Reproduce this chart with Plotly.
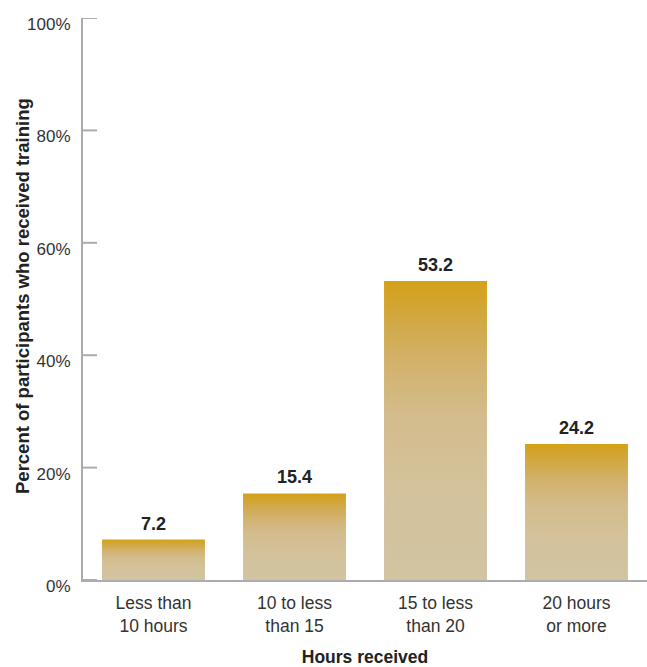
import plotly.graph_objects as go

categories = ["Less than<br>10 hours", "10 to less<br>than 15", "15 to less<br>than 20", "20 hours<br>or more"]
values = [7.2, 15.4, 53.2, 24.2]
value_labels = ["7.2", "15.4", "53.2", "24.2"]
y_ticks = [0, 20, 40, 60, 80, 100]
y_ticktext = ["0%", "20%", "40%", "60%", "80%", "100%"]
x_title = "Hours received"
y_title = "Percent of participants who received training"

BAR_W = 0.73
FONT = "Liberation Sans, Arial, sans-serif"
AXIS_GRAY = "#aaacb0"
TICK_FRAC = 14 / 564
grad = [[0.0, "#d1c4a0"], [0.3, "#d3c29c"], [0.55, "#d3bc8c"],
        [0.72, "#d2b26e"], [0.87, "#d1a843"], [1.0, "#d4a117"]]

fig = go.Figure()
for i, v in enumerate(values):
    x0, x1 = i - BAR_W / 2, i + BAR_W / 2
    fig.add_trace(go.Scatter(
        x=[x0, x0, x1, x1, x0], y=[0, v, v, 0, 0],
        mode="lines", fill="toself", line=dict(width=0),
        fillgradient=dict(type="vertical", colorscale=grad),
        showlegend=False, hoverinfo="skip"))

for i, (v, lab) in enumerate(zip(values, value_labels)):
    fig.add_annotation(x=i, y=v, text=f"<b>{lab}</b>", showarrow=False,
                       xanchor="center", yanchor="bottom", yshift=4,
                       font=dict(family=FONT, size=18, color="#222222"))

for t in y_ticks:
    fig.add_shape(type="line", xref="paper", yref="y", x0=0, x1=TICK_FRAC, y0=t, y1=t,
                  line=dict(color=AXIS_GRAY, width=2), layer="above")

fig.add_annotation(xref="paper", yref="paper", x=0, y=0.5, xshift=-61, yshift=3,
                   text=f"<b>{y_title}</b>", textangle=-90, showarrow=False,
                   xanchor="center", yanchor="middle",
                   font=dict(family=FONT, size=18.5, color="#222222"))

fig.update_layout(
    width=647, height=667,
    margin=dict(l=83, r=0, t=18, b=87),
    plot_bgcolor="white", paper_bgcolor="white",
    font=dict(family=FONT, color="#333333"),
    xaxis=dict(
        range=[-0.5, 3.5], tickvals=list(range(len(categories))), ticktext=categories,
        automargin=False,
        showgrid=False, zeroline=False, showline=True, linecolor=AXIS_GRAY, linewidth=2,
        ticks="", tickfont=dict(size=17.5, color="#333333"), ticklabelstandoff=6,
        title=dict(text=f"<b>{x_title}</b>", font=dict(size=17.5, color="#222222"), standoff=23),
    ),
    yaxis=dict(
        range=[0, 100], tickvals=y_ticks, ticktext=y_ticktext,
        automargin=False,
        showgrid=False, zeroline=False, showline=True, linecolor=AXIS_GRAY, linewidth=2,
        ticks="", tickfont=dict(size=17, color="#333333"),
        ticklabelstandoff=7, ticklabelshift=6,
    ),
)

fig.write_html("out.html")
